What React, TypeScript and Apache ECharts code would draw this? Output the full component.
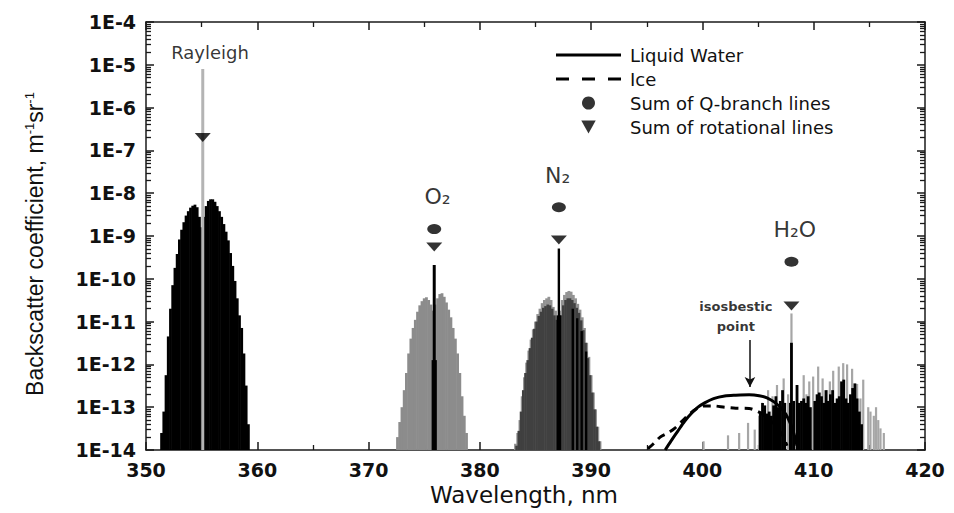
import { useEffect, useRef } from 'react';
import * as echarts from 'echarts';

// ---------- axes ----------
const X_MIN = 350;
const X_MAX = 420;
const X_INTERVAL = 10;
const Y_MIN = 1e-14;
const Y_MAX = 1e-4;
const yTickLabels = ['1E-14', '1E-13', '1E-12', '1E-11', '1E-10', '1E-9', '1E-8', '1E-7', '1E-6', '1E-5', '1E-4'];
const xTitle = 'Wavelength, nm';

// ---------- data: [wavelength nm, backscatter coefficient m^-1 sr^-1] ----------
const rayleighRotLines: [number, number][] = [
  [351.4, 2.5e-14], [351.6, 7.9e-14], [351.8, 5.6e-13], [352.0, 4.5e-12], [352.2, 2.0e-11],
  [352.4, 7.1e-11], [352.6, 1.8e-10], [352.8, 3.8e-10], [353.0, 8.3e-10], [353.2, 1.4e-9],
  [353.4, 2.1e-9], [353.6, 3.0e-9], [353.8, 3.8e-9], [354.0, 4.6e-9], [354.2, 5.1e-9],
  [354.4, 5.4e-9], [354.6, 4.7e-9], [354.8, 2.8e-9], [355.0, 1.6e-9], [355.2, 2.8e-9],
  [355.4, 5.0e-9], [355.6, 6.6e-9], [355.8, 7.2e-9], [356.0, 7.2e-9], [356.2, 6.3e-9],
  [356.4, 5.0e-9], [356.6, 3.8e-9], [356.8, 2.8e-9], [357.0, 1.9e-9], [357.2, 1.26e-9],
  [357.4, 7.9e-10], [357.6, 4.0e-10], [357.8, 2.0e-10], [358.0, 8.9e-11], [358.2, 3.5e-11],
  [358.4, 1.4e-11], [358.6, 7.1e-12], [358.8, 1.8e-12], [359.0, 3.2e-13], [359.2, 4.0e-14],
];
const rayleighLine: [number, number][] = [[355.1, 8e-6]];

const o2RotLines: [number, number][] = [
  [372.6, 2.0e-14], [372.8, 4.5e-14], [373.0, 1.0e-13], [373.2, 2.5e-13], [373.4, 6.3e-13],
  [373.6, 1.8e-12], [373.8, 4.0e-12], [374.0, 7.1e-12], [374.2, 1.1e-11], [374.4, 1.7e-11],
  [374.6, 2.4e-11], [374.8, 3.0e-11], [375.0, 3.5e-11], [375.2, 3.7e-11], [375.4, 3.2e-11],
  [375.6, 2.5e-11], [375.8, 1.8e-11], [376.0, 2.5e-11], [376.2, 3.5e-11], [376.4, 4.4e-11],
  [376.6, 4.6e-11], [376.8, 3.8e-11], [377.0, 2.8e-11], [377.2, 1.9e-11], [377.4, 1.26e-11],
  [377.6, 7.1e-12], [377.8, 4.0e-12], [378.0, 1.8e-12], [378.2, 6.3e-13], [378.4, 1.8e-13],
  [378.6, 6.3e-14], [378.8, 2.5e-14],
];
const o2QLines: [number, number][] = [[375.8, 1.26e-12], [375.9, 2.1e-10], [376.0, 1.26e-12]];

const n2RotLinesLight: [number, number][] = [
  [383.2, 1.4e-14], [383.4, 2.5e-14], [383.6, 5.0e-14], [383.8, 1.8e-13], [384.0, 5.0e-13],
  [384.2, 1.1e-12], [384.4, 2.1e-12], [384.6, 3.8e-12], [384.8, 6.6e-12], [385.0, 1.0e-11],
  [385.2, 1.5e-11], [385.4, 2.0e-11], [385.6, 2.7e-11], [385.8, 3.2e-11], [386.0, 3.5e-11],
  [386.2, 3.8e-11], [386.4, 3.2e-11], [386.6, 2.2e-11], [386.8, 1.8e-11], [387.0, 1.26e-11],
  [387.2, 1.8e-11], [387.4, 3.2e-11], [387.6, 4.2e-11], [387.8, 4.9e-11], [388.0, 5.2e-11],
  [388.2, 5.0e-11], [388.4, 4.2e-11], [388.6, 3.5e-11], [388.8, 2.6e-11], [389.0, 1.9e-11],
  [389.2, 1.26e-11], [389.4, 7.1e-12], [389.6, 3.2e-12], [389.8, 1.5e-12], [390.0, 5.6e-13],
  [390.2, 2.2e-13], [390.4, 8.9e-14], [390.6, 3.5e-14], [390.8, 1.6e-14],
];
const n2RotLinesDark: [number, number][] = [
  [383.3, 1.26e-14], [383.5, 2.8e-14], [383.7, 7.9e-14], [383.9, 2.5e-13], [384.1, 6.3e-13],
  [384.3, 1.26e-12], [384.5, 2.4e-12], [384.7, 4.2e-12], [384.9, 6.8e-12], [385.1, 1.0e-11],
  [385.3, 1.35e-11], [385.5, 1.7e-11], [385.7, 2.1e-11], [385.9, 2.3e-11], [386.1, 2.5e-11],
  [386.3, 2.4e-11], [386.5, 2.0e-11], [386.7, 1.4e-11], [386.9, 1.1e-11], [387.3, 1.4e-11],
  [387.5, 2.4e-11], [387.7, 3.2e-11], [387.9, 3.5e-11], [388.1, 3.5e-11], [388.3, 3.2e-11],
  [388.5, 2.7e-11], [388.7, 2.1e-11], [388.9, 1.6e-11], [389.1, 1.07e-11], [389.3, 6.3e-12],
  [389.5, 3.2e-12], [389.7, 1.4e-12], [389.9, 5.6e-13], [390.1, 2.2e-13], [390.3, 8.9e-14],
  [390.5, 3.5e-14], [390.7, 1.6e-14],
];
const n2QLines: [number, number][] = [
  [387.0, 1.4e-11], [387.1, 5.1e-10], [387.2, 1.4e-11],
  [388.35, 2.0e-11], [388.75, 1.2e-11], [389.15, 6.0e-12], [389.55, 2.0e-12],
];

const h2oLinesGray: [number, number][] = [
  [400.1, 1.6e-14], [402.3, 2.2e-14], [403.3, 2.5e-14], [404.1, 4.3e-14], [404.7, 3.0e-14],
  [405.1, 6.3e-14], [405.4, 1.1e-13], [405.9, 2.5e-13], [406.3, 1.8e-13], [406.7, 3.3e-13],
  [407.0, 1.26e-13], [407.3, 4.7e-13], [407.7, 2.0e-13], [408.0, 1.55e-11], [408.5, 3.2e-13],
  [409.1, 5.6e-13], [409.35, 2.0e-13], [409.6, 4.0e-13], [409.95, 5.2e-13], [410.4, 8.9e-13],
  [410.8, 4.7e-13], [411.2, 2.5e-13], [411.45, 4.0e-13], [411.75, 7.1e-13], [412.25, 8.9e-13],
  [412.65, 1.07e-12], [413.0, 1.0e-12], [413.45, 7.9e-13], [413.9, 3.5e-13], [414.2, 1.6e-13],
  [414.45, 4.4e-13], [414.9, 1.0e-13], [415.1, 7.9e-14], [415.4, 6.3e-14], [415.6, 1.0e-13],
  [415.8, 5.0e-14], [416.0, 3.2e-14], [416.3, 2.5e-14],
];
const h2oLinesBlack: [number, number][] = [
  [405.2, 7.9e-14], [405.4, 1.26e-13], [405.6, 1.1e-13], [405.8, 7.1e-14], [406.0, 7.9e-14],
  [406.2, 6.3e-14], [406.4, 1.1e-13], [406.6, 1.8e-13], [406.8, 1.0e-13], [407.0, 1.4e-13],
  [407.2, 2.5e-13], [407.4, 1.26e-13], [407.9, 1.26e-13], [408.0, 3.2e-12], [408.2, 1.4e-13],
  [408.5, 3.3e-13], [408.7, 1.26e-13], [408.9, 1.4e-13], [409.1, 1.6e-13], [409.3, 1.26e-13],
  [409.5, 1.8e-13], [409.7, 1.0e-13], [410.1, 1.4e-13], [410.3, 2.0e-13], [410.5, 2.2e-13],
  [410.7, 1.8e-13], [410.9, 1.26e-13], [411.1, 2.5e-13], [411.3, 1.4e-13], [411.5, 2.0e-13],
  [411.7, 2.5e-13], [411.9, 1.26e-13], [412.1, 1.6e-13], [412.3, 1.8e-13], [412.5, 4.0e-13],
  [412.7, 4.4e-13], [412.9, 1.6e-13], [413.1, 1.26e-13], [413.3, 2.0e-13], [413.5, 2.8e-13],
  [413.7, 3.6e-13], [413.9, 1.6e-13], [414.1, 7.9e-14], [414.3, 4.0e-14],
];

const liquidWater: [number, number][] = [
  [396.65, 1.0e-14], [397.2, 1.66e-14], [397.8, 2.8e-14], [398.4, 4.7e-14], [399.0, 7.1e-14],
  [399.6, 1.0e-13], [400.2, 1.26e-13], [401.0, 1.58e-13], [402.0, 1.82e-13], [403.0, 1.9e-13],
  [404.2, 1.95e-13], [405.1, 1.86e-13], [405.8, 1.66e-13], [406.4, 1.35e-13], [407.0, 1.0e-13],
  [407.5, 6.8e-14], [407.9, 4.2e-14], [408.2, 2.5e-14], [408.5, 1.26e-14],
];
const ice: [number, number][] = [
  [395.1, 1.07e-14], [395.6, 1.4e-14], [396.2, 2.0e-14], [396.9, 2.5e-14], [397.5, 3.2e-14],
  [398.2, 4.8e-14], [398.8, 6.8e-14], [399.4, 8.9e-14], [400.1, 1.07e-13], [401.0, 1.07e-13],
  [402.0, 1.0e-13], [403.0, 9.5e-14], [404.2, 9.3e-14], [405.0, 7.9e-14], [405.6, 6.3e-14],
  [406.2, 4.7e-14], [406.7, 3.4e-14], [407.2, 2.2e-14], [407.6, 1.26e-14],
];

const qBranchSums: [number, number][] = [[375.9, 1.45e-9], [387.1, 4.7e-9], [408.0, 2.5e-10]];
const rotationalSums: [number, number][] = [[355.1, 2.0e-7], [375.9, 5.5e-10], [387.1, 8.1e-10], [408.0, 2.3e-11]];

const annotations: { text: string; at: [number, number] }[] = [
  { text: 'Rayleigh', at: [355.75, 1.9e-5] },
  { text: '{b|O₂}', at: [376.2, 8.2e-9] },
  { text: '{b|N₂}', at: [387.0, 2.6e-8] },
  { text: '{b|H₂O}', at: [408.3, 1.45e-9] },
  { text: '{i|isosbestic}\n{i|point}', at: [403.0, 1.35e-11] },
];
const isosbesticArrow: [number, number][] = [[404.27, 3.7e-12], [404.27, 2.95e-13]];

const legendNames = ['Liquid Water', 'Ice', 'Sum of Q-branch lines', 'Sum of rotational lines'];

// ECharts rounds log-axis minor ticks to 10 decimals, so the axis works in units of 1E-14.
const UNIT = 1e14;
const toAxis = (pts: [number, number][]) => pts.map(([x, v]) => [x, v * UNIT]);
const TRI = 'path://M0,0L10,0L5,9Z';
const FONT = 'DejaVu Sans';

function lineBars(name: string, pts: [number, number][], color: string, w: number) {
  return {
    type: 'custom',
    name,
    silent: true,
    clip: true,
    data: toAxis(pts),
    encode: { x: 0, y: 1 },
    renderItem: (_p: any, api: any) => {
      const x = api.value(0);
      const v = api.value(1);
      const top = api.coord([x, v]);
      const base = api.coord([x, Y_MIN * UNIT]);
      return {
        type: 'rect',
        shape: { x: top[0] - w / 2, y: top[1], width: w, height: base[1] - top[1] },
        style: { fill: color },
      };
    },
  };
}

function buildOption() {
  const axisLineStyle = { color: '#1a1a1a', width: 1.5 };
  const xBase = {
    type: 'value',
    min: X_MIN,
    max: X_MAX,
    interval: X_INTERVAL,
    splitLine: { show: false },
    axisLine: { show: true, onZero: false, lineStyle: axisLineStyle },
    axisTick: { show: true, inside: true, length: 8, lineStyle: { color: '#1a1a1a', width: 1.5 } },
    minorTick: { show: true, splitNumber: 2, length: 5, lineStyle: { color: '#1a1a1a', width: 1.3 } },
  };
  const yBase = {
    type: 'log',
    logBase: 10,
    min: Y_MIN * UNIT,
    max: Y_MAX * UNIT,
    interval: 1,
    splitLine: { show: false },
    axisLine: { show: true, onZero: false, lineStyle: axisLineStyle },
    axisTick: { show: true, inside: true, length: 8, lineStyle: { color: '#1a1a1a', width: 1.5 } },
    minorTick: { show: true, splitNumber: 9, length: 5, lineStyle: { color: '#1a1a1a', width: 1.3 } },
  };
  return {
    animation: false,
    backgroundColor: '#ffffff',
    grid: { left: 146, right: 29, top: 22, bottom: 63 },
    legend: {
      data: [
        { name: legendNames[0], icon: 'path://M0,0h65v3h-65z' },
        { name: legendNames[1], icon: 'path://M0,0h13v3h-13zM26,0h13v3h-13zM52,0h13v3h-13z' },
        { name: legendNames[2] },
        { name: legendNames[3] },
      ],
      orient: 'vertical',
      left: 551,
      top: 41,
      itemWidth: 65,
      itemHeight: 13,
      itemGap: 6,
      selectedMode: false,
      textStyle: { fontFamily: FONT, fontSize: 18, color: '#111', padding: [0, 0, 0, 4] },
    },
    xAxis: [
      {
        ...xBase,
        position: 'bottom',
        axisLabel: { margin: 10, color: '#111', fontFamily: FONT, fontWeight: 'bold', fontSize: 19 },
        name: xTitle,
        nameLocation: 'middle',
        nameGap: 31,
        nameTextStyle: { fontFamily: FONT, fontSize: 23, color: '#111', padding: [0, 23, 0, 0] },
      },
      { ...xBase, position: 'top', axisLabel: { show: false } },
    ],
    yAxis: [
      {
        ...yBase,
        position: 'left',
        axisLabel: {
          margin: 10,
          color: '#111',
          fontFamily: FONT,
          fontWeight: 'bold',
          fontSize: 19,
          formatter: (v: number) => yTickLabels[Math.round(Math.log10(v))] ?? '',
        },
        name: '{a|Backscatter coefficient, m}{s|-1}{a|sr}{s|-1}',
        nameLocation: 'middle',
        nameGap: 100,
        nameTextStyle: {
          color: '#111',
          padding: [0, 16, 0, 0],
          rich: {
            a: { fontFamily: 'Liberation Sans', fontSize: 23, color: '#111' },
            s: { fontFamily: 'Liberation Sans', fontSize: 13, color: '#111', verticalAlign: 'top' },
          },
        },
      },
      { ...yBase, position: 'right', axisLabel: { show: false } },
    ],
    series: [
      lineBars('Rayleigh rotational', rayleighRotLines, '#000000', 2.8),
      lineBars('Rayleigh', rayleighLine, '#b4b4b4', 3),
      lineBars('O2 rotational', o2RotLines, '#8c8c8c', 2.8),
      lineBars('O2 Q-branch', o2QLines, '#000000', 3),
      lineBars('N2 rotational light', n2RotLinesLight, '#939393', 2.8),
      lineBars('N2 rotational dark', n2RotLinesDark, '#404040', 2.6),
      lineBars('N2 Q-branch', n2QLines, '#000000', 2.4),
      lineBars('H2O gray', h2oLinesGray, '#a6a6a6', 2.2),
      lineBars('H2O black', h2oLinesBlack, '#000000', 2.8),
      {
        type: 'line',
        name: 'Liquid Water',
        data: toAxis(liquidWater),
        symbol: 'none',
        smooth: 0.3,
        lineStyle: { color: '#000', width: 3, type: 'solid' },
        itemStyle: { color: '#000' },
        z: 5,
      },
      {
        type: 'line',
        name: 'Ice',
        data: toAxis(ice),
        symbol: 'none',
        smooth: 0.3,
        lineStyle: { color: '#000', width: 3, type: [8, 6] },
        itemStyle: { color: '#000' },
        z: 5,
      },
      {
        type: 'scatter',
        name: 'Sum of Q-branch lines',
        data: toAxis(qBranchSums),
        symbol: 'circle',
        symbolSize: [14, 10],
        itemStyle: { color: '#000' },
        z: 6,
      },
      {
        type: 'scatter',
        name: 'Sum of rotational lines',
        data: toAxis(rotationalSums),
        symbol: TRI,
        symbolSize: [16, 9],
        itemStyle: { color: '#000' },
        z: 6,
      },
      {
        type: 'scatter',
        name: 'annotations',
        silent: true,
        symbolSize: 0,
        z: 7,
        data: annotations.map((a) => ({ value: [a.at[0], a.at[1] * UNIT], name: a.text })),
        label: {
          show: true,
          position: 'inside',
          formatter: (p: any) => p.name,
          fontFamily: FONT,
          fontSize: 18,
          color: '#000',
          rich: {
            b: { fontFamily: FONT, fontSize: 22, color: '#000' },
            i: { fontFamily: FONT, fontSize: 13, fontWeight: 'bold', color: '#000', lineHeight: 20, align: 'center' },
          },
        },
        markLine: {
          silent: true,
          symbol: ['none', 'arrow'],
          symbolSize: [8, 10],
          label: { show: false },
          lineStyle: { color: '#111', width: 1.5, type: 'solid' },
          data: [[{ coord: [isosbesticArrow[0][0], isosbesticArrow[0][1] * UNIT] }, { coord: [isosbesticArrow[1][0], isosbesticArrow[1][1] * UNIT] }]],
        },
      },
    ],
  };
}

export default function App() {
  const ref = useRef<HTMLDivElement>(null);
  useEffect(() => {
    if (!ref.current) return;
    const chart = echarts.init(ref.current, undefined, { renderer: 'svg' });
    chart.setOption(buildOption() as any);
    return () => chart.dispose();
  }, []);
  return (
    <div
      ref={ref}
      style={{ position: 'fixed', left: 0, top: 0, width: 954, height: 513, background: '#fff' }}
    />
  );
}
